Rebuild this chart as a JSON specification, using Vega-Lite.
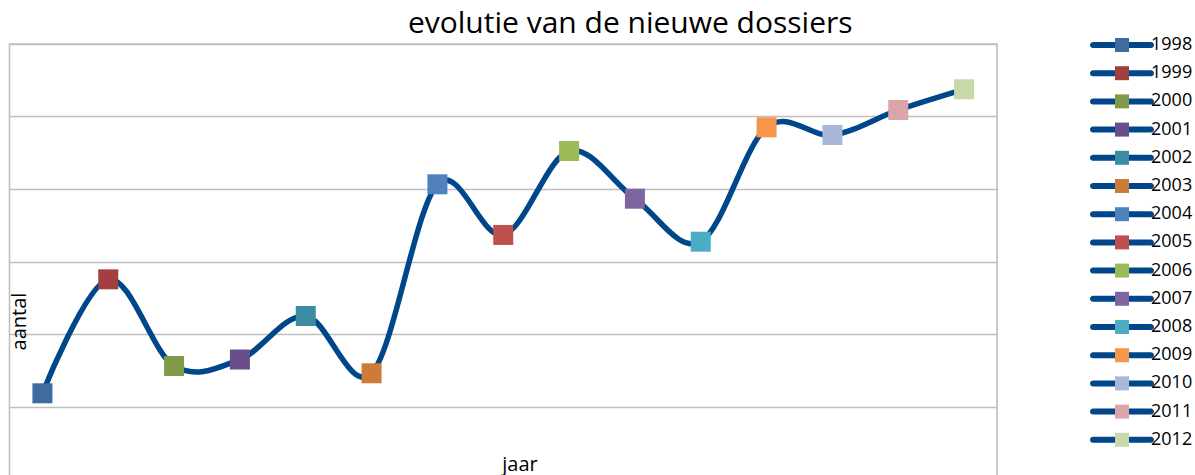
{
  "$schema": "https://vega.github.io/schema/vega-lite/v6.json",
  "width": 987.5,
  "height": 435,
  "autosize": "none",
  "padding": {"left": 9.5, "top": 44, "right": 198, "bottom": 0},
  "background": "white",
  "title": {
    "text": "evolutie van de nieuwe dossiers",
    "font": "Open Sans",
    "fontSize": 30,
    "fontWeight": "normal",
    "color": "#000000",
    "anchor": "middle",
    "frame": "group",
    "dx": 127,
    "offset": -27,
    "baseline": "alphabetic"
  },
  "config": {"view": {"stroke": "#BFBFBF", "strokeWidth": 1.6}},
  "data": {
    "values": [
      {"jaar": "1998", "aantal": 118.2},
      {"jaar": "1999", "aantal": 275.4},
      {"jaar": "2000", "aantal": 155.9},
      {"jaar": "2001", "aantal": 164.8},
      {"jaar": "2002", "aantal": 224.8},
      {"jaar": "2003", "aantal": 145.8},
      {"jaar": "2004", "aantal": 406.5},
      {"jaar": "2005", "aantal": 336.6},
      {"jaar": "2006", "aantal": 452.4},
      {"jaar": "2007", "aantal": 386.6},
      {"jaar": "2008", "aantal": 327.3},
      {"jaar": "2009", "aantal": 485.1},
      {"jaar": "2010", "aantal": 474.5},
      {"jaar": "2011", "aantal": 509.0},
      {"jaar": "2012", "aantal": 537.5}
    ]
  },
  "encoding": {
    "x": {
      "field": "jaar",
      "type": "ordinal",
      "scale": {"type": "point", "padding": 0.5},
      "axis": {
        "title": "jaar",
        "labels": false,
        "ticks": false,
        "domain": false,
        "grid": false,
        "titleFont": "Open Sans",
        "titleFontSize": 20,
        "titleFontWeight": "normal",
        "titleColor": "#000000",
        "titleX": 510,
        "titleY": -9,
        "titleBaseline": "alphabetic",
        "titleAlign": "center"
      }
    },
    "y": {
      "field": "aantal",
      "type": "quantitative",
      "scale": {"domain": [0, 600], "nice": false, "zero": true},
      "axis": {
        "title": "aantal",
        "labels": false,
        "ticks": false,
        "domain": false,
        "grid": true,
        "values": [0, 100, 200, 300, 400, 500, 600],
        "gridColor": "#BFBFBF",
        "gridWidth": 1.6,
        "titleFont": "Open Sans",
        "titleFontSize": 20,
        "titleFontWeight": "normal",
        "titleColor": "#000000",
        "titleX": 9.5,
        "titleY": 277,
        "titleAngle": -90,
        "titleBaseline": "middle",
        "titleAlign": "center"
      }
    }
  },
  "layer": [
    {
      "mark": {"type": "line", "interpolate": "cardinal", "color": "#00468A", "strokeWidth": 5.5}
    },
    {
      "mark": {"type": "point", "filled": true, "opacity": 0, "color": "#00468A"},
      "encoding": {
        "shape": {
          "field": "jaar",
          "type": "nominal",
          "scale": {
            "range": [
              "M-4.14,-0.43 L-0.9,-0.43 L-0.9,0.43 L-4.14,0.43 A0.43,0.43 0 0 1 -4.14,-0.43 Z M0.9,-0.43 L4.14,-0.43 A0.43,0.43 0 0 1 4.14,0.43 L0.9,0.43 Z",
              "M-4.14,-0.43 L-0.9,-0.43 L-0.9,0.43 L-4.14,0.43 A0.43,0.43 0 0 1 -4.14,-0.43 Z M0.9,-0.43 L4.14,-0.43 A0.43,0.43 0 0 1 4.14,0.43 L0.9,0.43 Z",
              "M-4.14,-0.43 L-0.9,-0.43 L-0.9,0.43 L-4.14,0.43 A0.43,0.43 0 0 1 -4.14,-0.43 Z M0.9,-0.43 L4.14,-0.43 A0.43,0.43 0 0 1 4.14,0.43 L0.9,0.43 Z",
              "M-4.14,-0.43 L-0.9,-0.43 L-0.9,0.43 L-4.14,0.43 A0.43,0.43 0 0 1 -4.14,-0.43 Z M0.9,-0.43 L4.14,-0.43 A0.43,0.43 0 0 1 4.14,0.43 L0.9,0.43 Z",
              "M-4.14,-0.43 L-0.9,-0.43 L-0.9,0.43 L-4.14,0.43 A0.43,0.43 0 0 1 -4.14,-0.43 Z M0.9,-0.43 L4.14,-0.43 A0.43,0.43 0 0 1 4.14,0.43 L0.9,0.43 Z",
              "M-4.14,-0.43 L-0.9,-0.43 L-0.9,0.43 L-4.14,0.43 A0.43,0.43 0 0 1 -4.14,-0.43 Z M0.9,-0.43 L4.14,-0.43 A0.43,0.43 0 0 1 4.14,0.43 L0.9,0.43 Z",
              "M-4.14,-0.43 L-0.9,-0.43 L-0.9,0.43 L-4.14,0.43 A0.43,0.43 0 0 1 -4.14,-0.43 Z M0.9,-0.43 L4.14,-0.43 A0.43,0.43 0 0 1 4.14,0.43 L0.9,0.43 Z",
              "M-4.14,-0.43 L-0.9,-0.43 L-0.9,0.43 L-4.14,0.43 A0.43,0.43 0 0 1 -4.14,-0.43 Z M0.9,-0.43 L4.14,-0.43 A0.43,0.43 0 0 1 4.14,0.43 L0.9,0.43 Z",
              "M-4.14,-0.43 L-0.9,-0.43 L-0.9,0.43 L-4.14,0.43 A0.43,0.43 0 0 1 -4.14,-0.43 Z M0.9,-0.43 L4.14,-0.43 A0.43,0.43 0 0 1 4.14,0.43 L0.9,0.43 Z",
              "M-4.14,-0.43 L-0.9,-0.43 L-0.9,0.43 L-4.14,0.43 A0.43,0.43 0 0 1 -4.14,-0.43 Z M0.9,-0.43 L4.14,-0.43 A0.43,0.43 0 0 1 4.14,0.43 L0.9,0.43 Z",
              "M-4.14,-0.43 L-0.9,-0.43 L-0.9,0.43 L-4.14,0.43 A0.43,0.43 0 0 1 -4.14,-0.43 Z M0.9,-0.43 L4.14,-0.43 A0.43,0.43 0 0 1 4.14,0.43 L0.9,0.43 Z",
              "M-4.14,-0.43 L-0.9,-0.43 L-0.9,0.43 L-4.14,0.43 A0.43,0.43 0 0 1 -4.14,-0.43 Z M0.9,-0.43 L4.14,-0.43 A0.43,0.43 0 0 1 4.14,0.43 L0.9,0.43 Z",
              "M-4.14,-0.43 L-0.9,-0.43 L-0.9,0.43 L-4.14,0.43 A0.43,0.43 0 0 1 -4.14,-0.43 Z M0.9,-0.43 L4.14,-0.43 A0.43,0.43 0 0 1 4.14,0.43 L0.9,0.43 Z",
              "M-4.14,-0.43 L-0.9,-0.43 L-0.9,0.43 L-4.14,0.43 A0.43,0.43 0 0 1 -4.14,-0.43 Z M0.9,-0.43 L4.14,-0.43 A0.43,0.43 0 0 1 4.14,0.43 L0.9,0.43 Z",
              "M-4.14,-0.43 L-0.9,-0.43 L-0.9,0.43 L-4.14,0.43 A0.43,0.43 0 0 1 -4.14,-0.43 Z M0.9,-0.43 L4.14,-0.43 A0.43,0.43 0 0 1 4.14,0.43 L0.9,0.43 Z"
            ]
          },
          "legend": {
            "orient": "none",
            "legendX": 1103.5,
            "legendY": -8,
            "title": null,
            "padding": 0,
            "symbolSize": 196,
            "symbolFillColor": "#00468A",
            "symbolStrokeWidth": 0,
            "symbolOpacity": 1,
            "labelFont": "Open Sans",
            "labelFontSize": 18,
            "labelColor": "rgba(0,0,0,0)",
            "labelOffset": 20,
            "rowPadding": 10.2
          }
        }
      }
    },
    {
      "mark": {"type": "point", "shape": "square", "size": 400, "filled": true, "opacity": 1, "strokeWidth": 0},
      "encoding": {
        "fill": {
          "field": "jaar",
          "type": "nominal",
          "scale": {
            "domain": ["1998", "1999", "2000", "2001", "2002", "2003", "2004", "2005", "2006", "2007", "2008", "2009", "2010", "2011", "2012"],
            "range": ["#3F6B9F", "#A33F3E", "#7F9A48", "#6A4E8B", "#3C8DA3", "#CC7B38", "#4F81BD", "#C0504D", "#9BBB59", "#8064A2", "#4BACC6", "#F79646", "#A7B8D9", "#D9A5A6", "#C7D8A9"]
          },
          "legend": {
            "orient": "none",
            "legendX": 1103.5,
            "legendY": -8,
            "title": null,
            "padding": 0,
            "symbolType": "square",
            "symbolSize": 196,
            "symbolStrokeWidth": 0,
            "symbolOpacity": 1,
            "labelFont": "Open Sans",
            "labelFontSize": 18,
            "labelColor": "#000000",
            "labelOffset": 20,
            "rowPadding": 10.2
          }
        }
      }
    }
  ]
}
